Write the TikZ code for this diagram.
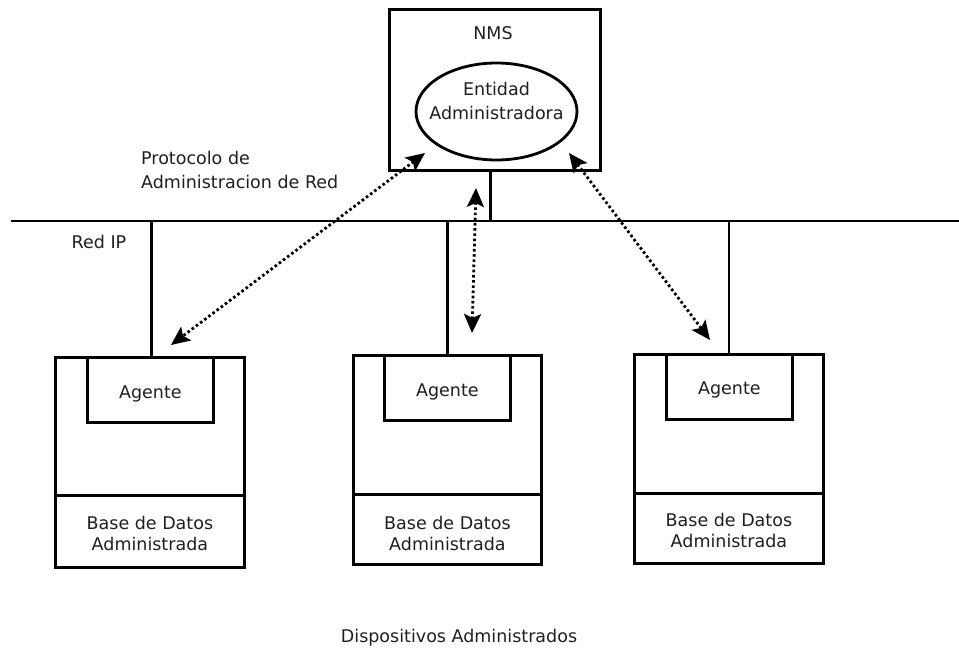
\documentclass[tikz,border=0pt]{standalone}
\usepackage{fontspec}
\setmainfont{DejaVu Sans}
\usetikzlibrary{shapes.geometric,arrows.meta,calc}

\begin{document}
\begin{tikzpicture}[x=1pt,y=-1pt,
  wire/.style={line width=2.8pt,line cap=rect},
  frame/.style={draw,line width=2.8pt,rectangle,inner sep=0pt,anchor=north west},
  txt/.style={font=\fontsize{17.5}{24}\selectfont,inner sep=0pt,align=center,text=black!88},
  dbtxt/.style={txt,font=\fontsize{17.5}{21}\selectfont},
  tip/.style={Stealth[length=19pt,width=17pt,inset=4pt]},
  link/.style={line width=2.8pt,dash pattern=on 2.6pt off 2.6pt,{Stealth[length=19pt,width=17pt,inset=4pt]}-{Stealth[length=19pt,width=17pt,inset=4pt]}}
]
\useasboundingbox (0,0) rectangle (959,652);

% management station
\node[frame,minimum width=211,minimum height=161] (nms) at (388,8) {};
\node[txt] (nmslabel) at (493,33) {NMS};
\node[draw,line width=2.8pt,ellipse,minimum width=161,minimum height=97,inner sep=0pt] (ent) at (496.5,111.5) {};
\node[txt] (enttext) at ([yshift=10.5pt]ent.center) {Entidad\\Administradora};

% IP network backbone
\coordinate (netL) at (12,221);
\coordinate (netR) at (959,221);
\draw[wire] (netL) -- (netR);
\draw[wire] ([xshift=-4.5pt]nms.south) -- ([xshift=-4.5pt]nms.south |- netL);
\node[txt,anchor=center] (redip) at (99,242) {Red IP};

% managed devices
\node[frame,minimum width=189,minimum height=138] (top1) at (54,356) {};
\node[frame,minimum width=189,minimum height=72] (db1) at (54,494) {};
\node[frame,minimum width=126,minimum height=65] (ag1) at (86,356) {};
\node[txt] at ([yshift=-4pt]ag1.center) {Agente};
\node[dbtxt] at ([yshift=-2pt]db1.center) {Base de Datos\\Administrada};

\node[frame,minimum width=188,minimum height=139] (top2) at (352,354) {};
\node[frame,minimum width=188,minimum height=70] (db2) at (352,493) {};
\node[frame,minimum width=126,minimum height=65] (ag2) at (383,354) {};
\node[txt] at ([yshift=-4pt]ag2.center) {Agente};
\node[dbtxt] at ([yshift=-4pt]db2.center) {Base de Datos\\Administrada};

\node[frame,minimum width=189,minimum height=139] (top3) at (633,353) {};
\node[frame,minimum width=189,minimum height=70] (db3) at (633,492) {};
\node[frame,minimum width=126,minimum height=65] (ag3) at (665,353) {};
\node[txt] at ([yshift=-3pt]ag3.center) {Agente};
\node[dbtxt] at ([yshift=-2pt]db3.center) {Base de Datos\\Administrada};

% drops from the backbone
\draw[wire] ([xshift=1.5pt]top1.north) -- ([xshift=1.5pt]top1.north |- netL);
\draw[wire] (top2.north) -- (top2.north |- netL);
\draw[wire] (top3.north) -- (top3.north |- netL);

% management protocol exchanges
\coordinate (p1a) at (425,153);
\coordinate (p1b) at (171,345);
\coordinate (p2a) at (476,188);
\coordinate (p2b) at (472,333);
\coordinate (p3a) at (569,153);
\coordinate (p3b) at (710,340);
\draw[link] (p1a) -- (p1b);
\draw[link] (p2a) -- (p2b);
\draw[link] (p3a) -- (p3b);

\node[txt,align=left,anchor=west] (proto) at (141,170) {Protocolo de\\Administracion de Red};
\node[txt] (devs) at (459,638) {Dispositivos Administrados};
\end{tikzpicture}
\end{document}
